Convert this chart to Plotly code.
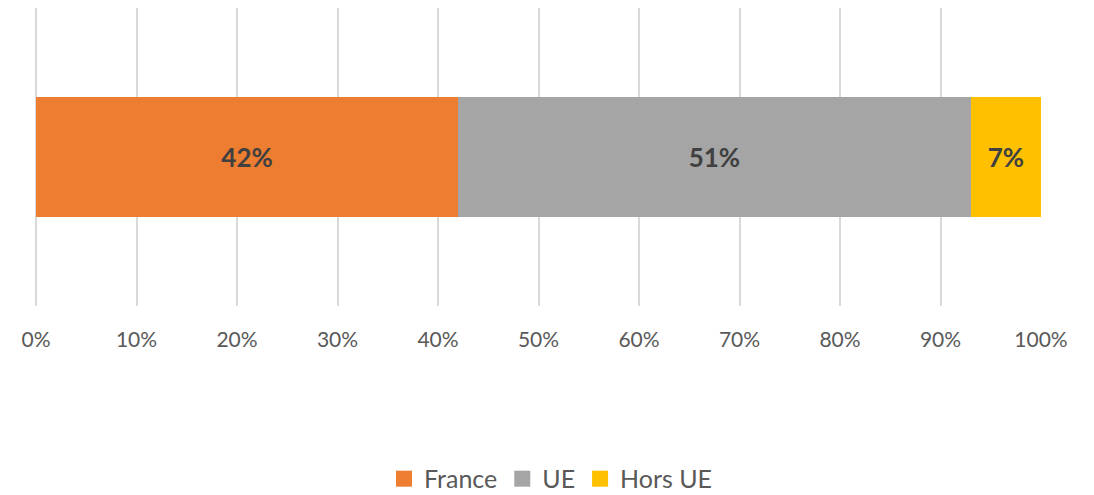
import plotly.graph_objects as go

categories = ["Origine"]
series_names = ["France", "UE", "Hors UE"]
series_values = [[0.42], [0.51], [0.07]]
series_colors = ["#ED7D31", "#A5A5A5", "#FFC000"]
tick_values = [i / 10 for i in range(11)]
tick_labels = [f"{i*10}%" for i in range(11)]

fig = go.Figure()
for name, vals, col in zip(series_names, series_values, series_colors):
    fig.add_trace(go.Bar(
        x=vals, y=categories, name=name, orientation="h",
        marker=dict(color=col, line=dict(width=0)),
        texttemplate="%{x:.0%}", textposition="inside",
        insidetextanchor="middle", constraintext="none",
        textfont=dict(family="Lato", size=26, color="#404040", weight="bold"),
        hoverinfo="skip", showlegend=False,
    ))
# legend entries with larger square keys
for name, col in zip(series_names, series_colors):
    fig.add_trace(go.Scatter(
        x=[None], y=[None], name=name, mode="markers",
        marker=dict(symbol="square", size=18, color=col),
        hoverinfo="skip", showlegend=True,
    ))

fig.update_layout(
    barmode="stack", bargap=0.6,
    width=1086, height=487,
    margin=dict(l=28, r=53, t=0, b=189),
    plot_bgcolor="white", paper_bgcolor="white",
    font=dict(family="Lato", color="#595959"),
    xaxis=dict(range=[0, 1], tickvals=tick_values, ticktext=tick_labels,
               showgrid=True, gridcolor="#D9D9D9", gridwidth=1.5,
               zeroline=True, zerolinecolor="#D9D9D9", zerolinewidth=1.5,
               showline=False, ticks="",
               ticklabelstandoff=19, tickfont=dict(size=21, color="#595959")),
    yaxis=dict(showticklabels=False, showgrid=False, zeroline=False,
               range=[-0.5, 0.5], type="category"),
    legend=dict(orientation="h", xref="container", yref="container",
                x=0.5, xanchor="center", y=0.033, yanchor="middle",
                font=dict(size=25, color="#595959"), itemwidth=30,
                itemsizing="trace", traceorder="normal"),
    showlegend=True,
)

fig.write_html("out.html")
